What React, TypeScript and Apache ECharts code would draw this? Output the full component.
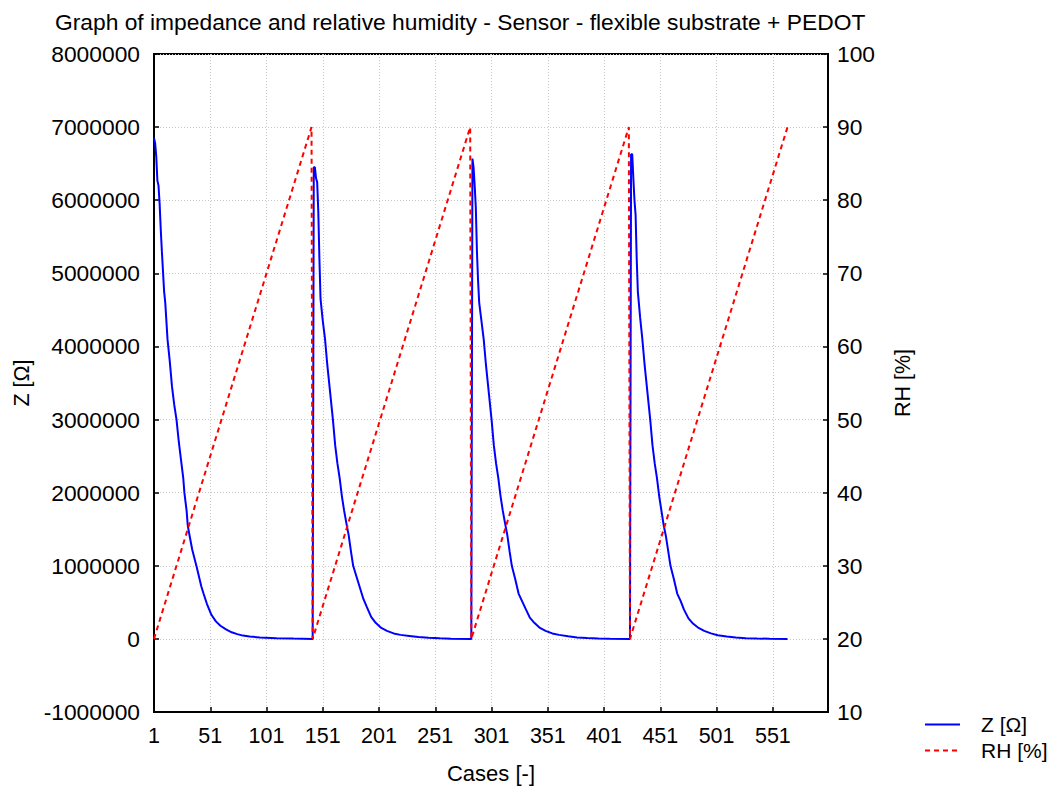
import { useEffect, useRef } from 'react';
import * as echarts from 'echarts';

const TITLE = 'Graph of impedance and relative humidity - Sensor - flexible substrate + PEDOT';
const caseCount = 600;
const caseCategories: string[] = Array.from({ length: caseCount }, (_, i) => String(i + 1));

// Z [Ω], as [case, value]
const zCycle1: [number, number][] = [
  [1, 6850000], [2, 6780000], [3, 6600000], [4, 6270000], [5, 6200000], [6, 5950000], [7, 5600000],
  [8, 5300000], [10, 4750000], [11, 4600000], [13, 4100000], [15, 3800000], [17, 3450000], [19, 3200000],
  [21, 3000000], [23, 2700000], [25, 2450000], [27, 2200000], [28, 2000000], [30, 1750000], [31, 1550000],
  [33, 1380000], [35, 1220000], [37, 1100000], [39, 980000], [41, 850000], [43, 720000], [45, 620000],
  [48, 480000], [52, 330000], [56, 240000], [60, 180000], [65, 130000], [70, 90000], [75, 65000],
  [80, 45000], [86, 32000], [95, 20000], [110, 10000], [125, 5000], [142, 0],
];
const zCycle2: [number, number][] = [
  [143, 6450000], [144, 6450000], [145, 6300000], [146, 6250000], [147, 5850000], [148, 5200000],
  [149, 4650000], [151, 4350000], [153, 4100000], [155, 3750000], [157, 3450000], [160, 3000000],
  [162, 2650000], [164, 2400000], [166, 2200000], [168, 1950000], [170, 1750000], [172, 1580000],
  [174, 1420000], [176, 1200000], [178, 1000000], [181, 850000], [184, 700000], [187, 550000],
  [190, 440000], [194, 300000], [198, 220000], [203, 150000], [208, 110000], [214, 75000], [220, 55000],
  [228, 40000], [236, 25000], [245, 15000], [255, 8000], [265, 3000], [283, 0],
];
const zCycle3: [number, number][] = [
  [284, 6570000], [285, 6450000], [286, 6200000], [287, 5900000], [288, 5300000], [289, 4900000],
  [290, 4600000], [292, 4350000], [294, 4100000], [296, 3750000], [298, 3450000], [301, 3000000],
  [303, 2650000], [305, 2400000], [307, 2200000], [309, 1950000], [311, 1750000], [313, 1580000],
  [315, 1420000], [317, 1200000], [319, 1000000], [322, 820000], [325, 620000], [328, 520000],
  [331, 420000], [335, 290000], [339, 220000], [344, 150000], [349, 110000], [355, 75000], [361, 55000],
  [369, 35000], [377, 20000], [386, 12000], [396, 6000], [406, 2000], [424, 0],
];
const zCycle4: [number, number][] = [
  [425, 6630000], [426, 6630000], [427, 6300000], [428, 6000000], [429, 5800000], [430, 5200000],
  [431, 4750000], [433, 4400000], [435, 4100000], [437, 3750000], [439, 3450000], [442, 3000000],
  [444, 2650000], [446, 2400000], [448, 2200000], [450, 1950000], [452, 1750000], [454, 1550000],
  [456, 1400000], [458, 1200000], [460, 1000000], [463, 820000], [466, 620000], [469, 520000],
  [472, 400000], [476, 280000], [480, 210000], [485, 150000], [490, 110000], [496, 75000], [502, 50000],
  [510, 32000], [518, 18000], [527, 10000], [537, 5000], [548, 2000], [564, 0],
];

// RH [%] turning points
const rhCases: number[] = [1, 141, 142, 282, 283, 423, 424, 564];
const rhValues: number[] = [20, 90, 20, 90, 20, 90, 20, 90];

const FONT = '"Liberation Sans", Arial, sans-serif';

export default function App() {
  const ref = useRef<HTMLDivElement>(null);
  useEffect(() => {
    if (!ref.current) return;
    document.body.style.margin = '0';
    const chart = echarts.init(ref.current, null, { renderer: 'svg' });
    const zData = [...zCycle1, ...zCycle2, ...zCycle3, ...zCycle4].map(([c, v]) => [String(c), v]);
    const rhData = rhCases.map((c, i) => [String(c), rhValues[i]]);
    const gridLine = { show: true, lineStyle: { color: '#c8c8c8', width: 1, type: [1, 2] as number[] } };
    chart.setOption({
      animation: false,
      textStyle: { fontFamily: FONT },
      title: {
        text: TITLE,
        left: 55,
        top: 10,
        padding: 0,
        textStyle: { fontSize: 22.8, fontWeight: 'normal', color: '#000', fontFamily: FONT },
      },
      grid: {
        left: 154,
        top: 54,
        width: 674,
        height: 663,
        show: true,
        borderColor: '#000',
        borderWidth: 2,
        containLabel: false,
      },
      legend: {
        orient: 'vertical',
        left: 919,
        top: 709,
        itemWidth: 35,
        itemHeight: 20,
        itemGap: 5,
        itemStyle: { opacity: 0 },
        textStyle: { fontSize: 21, color: '#000', fontFamily: FONT, padding: [0, 0, 0, 16] },
        data: ['Z [Ω]', 'RH [%]'],
      },
      xAxis: {
        type: 'category',
        data: caseCategories,
        boundaryGap: false,
        name: 'Cases [-]',
        nameLocation: 'middle',
        nameGap: 50,
        nameTextStyle: { fontSize: 22, color: '#000', fontFamily: FONT },
        axisLine: { onZero: false, lineStyle: { color: '#000', width: 2 } },
        axisTick: { inside: true, length: 5, interval: 49, lineStyle: { color: '#000', width: 1.5 } },
        axisLabel: { interval: 49, margin: 13, fontSize: 21.5, color: '#000', fontFamily: FONT },
        splitLine: { ...gridLine, interval: 49 },
      },
      yAxis: [
        {
          type: 'value',
          min: -1000000,
          max: 8000000,
          interval: 1000000,
          name: 'Z [Ω]',
          nameLocation: 'middle',
          nameGap: 120,
          nameTextStyle: { fontSize: 21.5, color: '#000', fontFamily: FONT },
          axisLine: { show: true, onZero: false, lineStyle: { color: '#000', width: 2 } },
          axisTick: { show: true, inside: true, length: 5, lineStyle: { color: '#000', width: 1.5 } },
          axisLabel: { margin: 14, fontSize: 22.8, color: '#000', fontFamily: FONT, formatter: (v: number) => String(v) },
          splitLine: gridLine,
        },
        {
          type: 'value',
          min: 10,
          max: 100,
          interval: 10,
          position: 'right',
          name: 'RH [%]',
          nameLocation: 'middle',
          nameGap: 64,
          nameTextStyle: { fontSize: 21.5, color: '#000', fontFamily: FONT },
          axisLine: { show: true, onZero: false, lineStyle: { color: '#000', width: 2 } },
          axisTick: { show: true, inside: true, length: 5, lineStyle: { color: '#000', width: 1.5 } },
          axisLabel: { margin: 9, fontSize: 22.8, color: '#000', fontFamily: FONT },
          splitLine: { show: false },
        },
      ],
      series: [
        {
          name: 'Z [Ω]',
          type: 'line',
          yAxisIndex: 0,
          data: zData,
          symbol: 'none',
          lineStyle: { color: '#0000ff', width: 2 },
          itemStyle: { color: '#0000ff' },
        },
        {
          name: 'RH [%]',
          type: 'line',
          yAxisIndex: 1,
          data: rhData,
          symbol: 'none',
          lineStyle: { color: '#ff0000', width: 2, type: [5, 4] },
          itemStyle: { color: '#ff0000' },
        },
      ],
    });
    return () => chart.dispose();
  }, []);
  return <div ref={ref} style={{ width: 1060, height: 789 }} />;
}
